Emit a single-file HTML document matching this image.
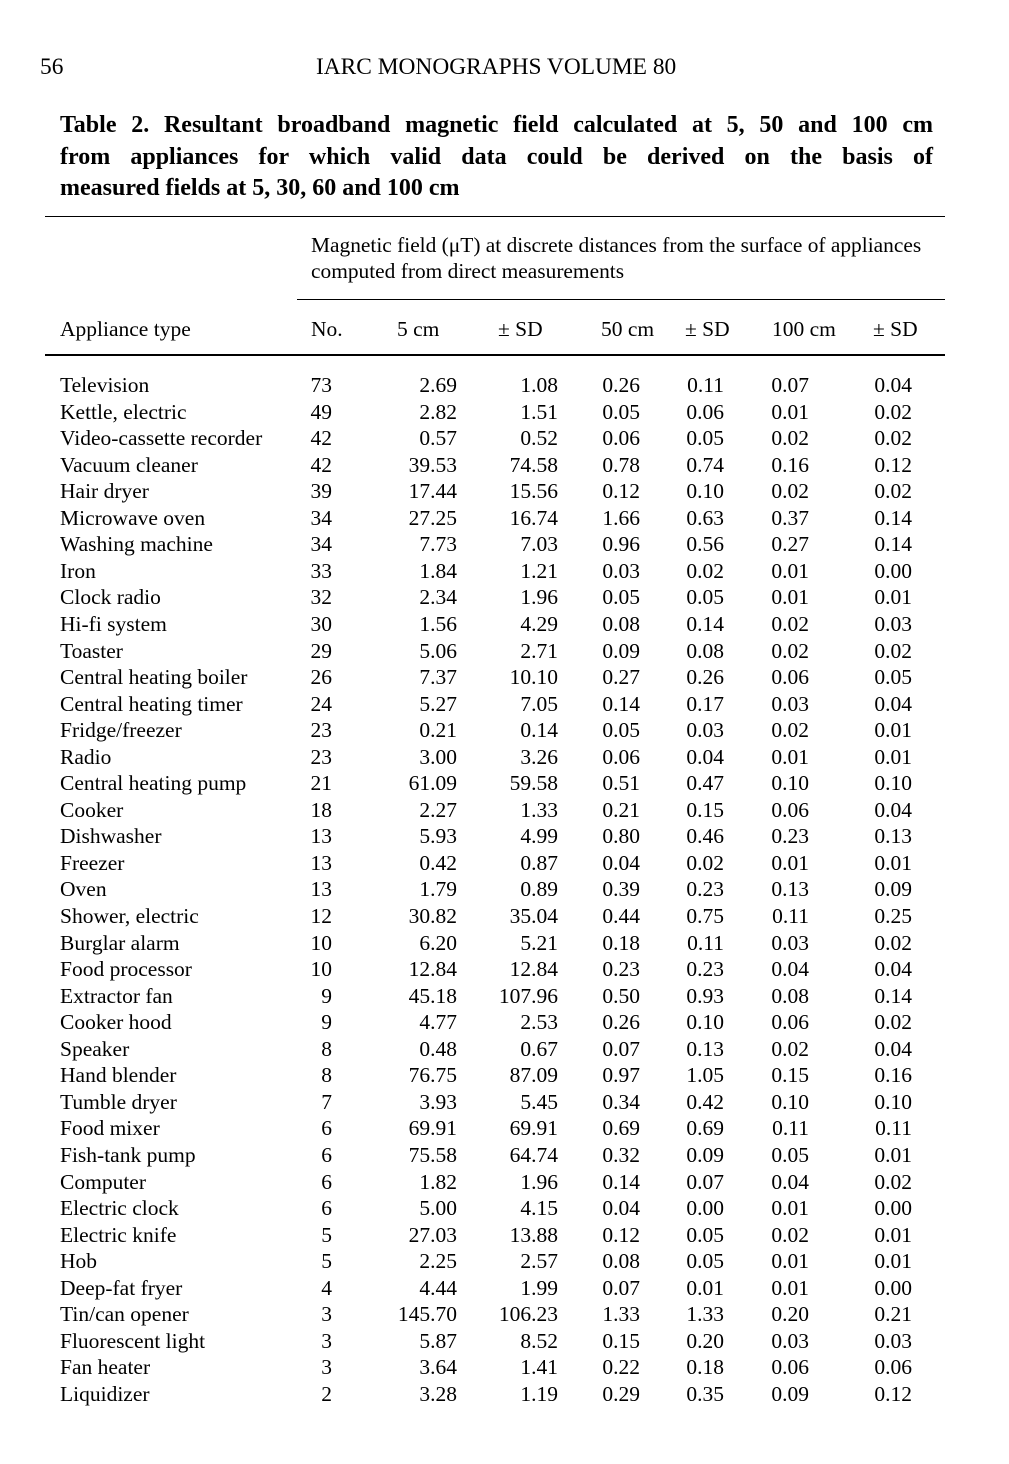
<!DOCTYPE html>
<html><head><meta charset="utf-8"><style>
body{margin:0;background:#fff;}
#p{position:relative;width:1009px;height:1464px;font-family:"Liberation Serif",serif;color:#000;overflow:hidden}
.a{position:absolute;white-space:nowrap}
.t{position:absolute;left:60px;width:873px;font-weight:bold;font-size:24px;text-align:justify;text-align-last:justify;line-height:32px}
.r{position:absolute;left:0;width:1009px;height:26.55px;font-size:21.5px;line-height:26.55px}
.r span{position:absolute;top:0;white-space:nowrap}
.n{left:60px}
.c1{right:677px}.c2{right:552px}.c3{right:451px}.c4{right:369px}.c5{right:285px}.c6{right:200px}.c7{right:97px}
.hl{position:absolute;height:1px;background:#000}
</style></head><body><div id="p">
<div class="a" style="left:40px;top:54px;font-size:23.4px">56</div>
<div class="a" style="left:316px;top:54px;font-size:23.4px">IARC MONOGRAPHS VOLUME 80</div>
<div class="t" style="top:109px">Table 2. Resultant broadband magnetic field calculated at 5, 50 and 100 cm</div>
<div class="t" style="top:141px">from appliances for which valid data could be derived on the basis of</div>
<div class="t" style="top:172px;text-align-last:left">measured fields at 5, 30, 60 and 100 cm</div>
<div class="hl" style="left:45px;width:900px;top:216px"></div>
<div class="a" style="left:311px;top:233px;font-size:21.4px">Magnetic field (μT) at discrete distances from the surface of appliances</div>
<div class="a" style="left:311px;top:259px;font-size:21.4px">computed from direct measurements</div>
<div class="hl" style="left:297px;width:648px;top:299px"></div>
<div class="r" style="top:316px"><span class="n">Appliance type</span><span style="left:311px">No.</span><span style="left:397px">5 cm</span><span style="left:498px">± SD</span><span style="left:601px">50 cm</span><span style="left:685px">± SD</span><span style="left:772px">100 cm</span><span style="left:873px">± SD</span></div>
<div class="hl" style="left:45px;width:900px;top:354px;height:2px"></div>
<div id="rows"></div>
</div>
<script>
var d=`Television|73|2.69|1.08|0.26|0.11|0.07|0.04
Kettle, electric|49|2.82|1.51|0.05|0.06|0.01|0.02
Video-cassette recorder|42|0.57|0.52|0.06|0.05|0.02|0.02
Vacuum cleaner|42|39.53|74.58|0.78|0.74|0.16|0.12
Hair dryer|39|17.44|15.56|0.12|0.10|0.02|0.02
Microwave oven|34|27.25|16.74|1.66|0.63|0.37|0.14
Washing machine|34|7.73|7.03|0.96|0.56|0.27|0.14
Iron|33|1.84|1.21|0.03|0.02|0.01|0.00
Clock radio|32|2.34|1.96|0.05|0.05|0.01|0.01
Hi-fi system|30|1.56|4.29|0.08|0.14|0.02|0.03
Toaster|29|5.06|2.71|0.09|0.08|0.02|0.02
Central heating boiler|26|7.37|10.10|0.27|0.26|0.06|0.05
Central heating timer|24|5.27|7.05|0.14|0.17|0.03|0.04
Fridge/freezer|23|0.21|0.14|0.05|0.03|0.02|0.01
Radio|23|3.00|3.26|0.06|0.04|0.01|0.01
Central heating pump|21|61.09|59.58|0.51|0.47|0.10|0.10
Cooker|18|2.27|1.33|0.21|0.15|0.06|0.04
Dishwasher|13|5.93|4.99|0.80|0.46|0.23|0.13
Freezer|13|0.42|0.87|0.04|0.02|0.01|0.01
Oven|13|1.79|0.89|0.39|0.23|0.13|0.09
Shower, electric|12|30.82|35.04|0.44|0.75|0.11|0.25
Burglar alarm|10|6.20|5.21|0.18|0.11|0.03|0.02
Food processor|10|12.84|12.84|0.23|0.23|0.04|0.04
Extractor fan|9|45.18|107.96|0.50|0.93|0.08|0.14
Cooker hood|9|4.77|2.53|0.26|0.10|0.06|0.02
Speaker|8|0.48|0.67|0.07|0.13|0.02|0.04
Hand blender|8|76.75|87.09|0.97|1.05|0.15|0.16
Tumble dryer|7|3.93|5.45|0.34|0.42|0.10|0.10
Food mixer|6|69.91|69.91|0.69|0.69|0.11|0.11
Fish-tank pump|6|75.58|64.74|0.32|0.09|0.05|0.01
Computer|6|1.82|1.96|0.14|0.07|0.04|0.02
Electric clock|6|5.00|4.15|0.04|0.00|0.01|0.00
Electric knife|5|27.03|13.88|0.12|0.05|0.02|0.01
Hob|5|2.25|2.57|0.08|0.05|0.01|0.01
Deep-fat fryer|4|4.44|1.99|0.07|0.01|0.01|0.00
Tin/can opener|3|145.70|106.23|1.33|1.33|0.20|0.21
Fluorescent light|3|5.87|8.52|0.15|0.20|0.03|0.03
Fan heater|3|3.64|1.41|0.22|0.18|0.06|0.06
Liquidizer|2|3.28|1.19|0.29|0.35|0.09|0.12`.split("\n");
var h="";d.forEach(function(l,i){var f=l.split("|");h+='<div class="r" style="top:'+(372+i*26.55).toFixed(2)+'px"><span class="n">'+f[0]+'</span>';for(var k=1;k<8;k++)h+='<span class="c'+k+'">'+f[k]+'</span>';h+='</div>';});
document.getElementById("rows").outerHTML=h;
</script></body></html>
